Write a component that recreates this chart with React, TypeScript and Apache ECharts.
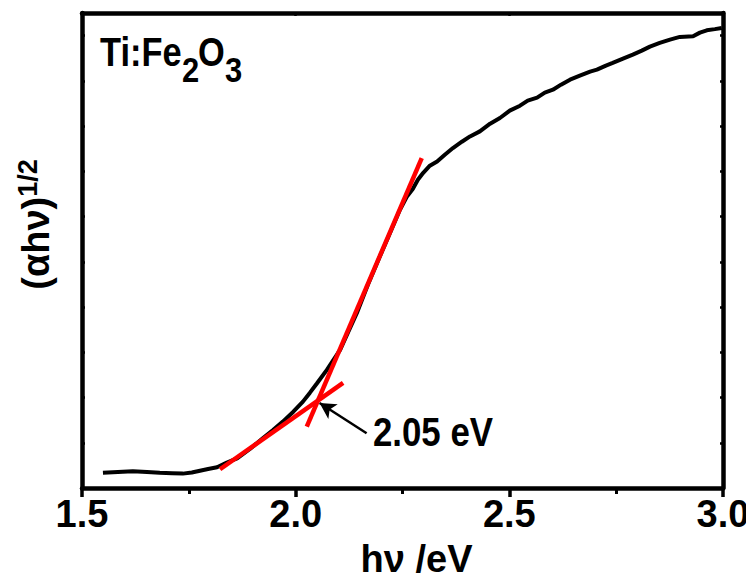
import React, { useEffect, useRef } from "react";
import * as echarts from "echarts";

// Photon energy (eV) and (αhν)^1/2 (arbitrary units)
const hv = [
  1.549, 1.584, 1.619, 1.652, 1.682, 1.711, 1.736, 1.757, 1.776, 1.795,
  1.816, 1.839, 1.863, 1.893, 1.923, 1.947, 1.970, 1.994, 2.017, 2.033,
  2.050, 2.073, 2.104, 2.122, 2.143, 2.169, 2.197, 2.221, 2.244, 2.260,
  2.274, 2.286, 2.298, 2.314, 2.331, 2.349, 2.368, 2.389, 2.408, 2.431,
  2.455, 2.478, 2.501, 2.525, 2.543, 2.565, 2.583, 2.602, 2.621, 2.642,
  2.665, 2.689, 2.705, 2.726, 2.742, 2.766, 2.789, 2.810, 2.829, 2.852,
  2.876, 2.899, 2.930, 2.946, 2.962, 2.981, 2.997,
];
const ahv = [
  0.338, 0.355, 0.372, 0.354, 0.335, 0.326, 0.318, 0.343, 0.383, 0.420,
  0.458, 0.564, 0.657, 0.863, 1.100, 1.283, 1.467, 1.681, 1.909, 2.102,
  2.316, 2.611, 3.053, 3.429, 3.865, 4.491, 5.117, 5.642, 6.150, 6.438,
  6.610, 6.814, 6.962, 7.124, 7.219, 7.367, 7.515, 7.655, 7.772, 7.883,
  8.053, 8.179, 8.341, 8.451, 8.562, 8.628, 8.739, 8.805, 8.916, 9.027,
  9.115, 9.204, 9.248, 9.336, 9.396, 9.491, 9.580, 9.668, 9.757, 9.838,
  9.912, 9.971, 9.985, 10.066, 10.117, 10.144, 10.170,
];

// Linear fits (red lines)
const steepFitX = [2.026, 2.295];
const steepFitY = [1.356, 7.294];
const shallowFitX = [1.823, 2.111];
const shallowFitY = [0.414, 2.323];

// Arrow pointing to the intersection
const arrowFrom = [2.166, 1.21];
const arrowTo = [2.056, 1.88];

const xMin = 1.5;
const xMax = 3.0;
const xInterval = 0.5;
const yMin = 0;
const yMax = 10.5;
const yInterval = 1;

const sampleName = ["Ti:Fe", "2", "O", "3"];
const bandGapLabel = "2.05 eV";
const xTitle = "hν /eV";
const yTitle = "{a|(αhν)}{s|1/2}";

const FONT = "'Liberation Sans', Arial, sans-serif";

export default function App() {
  const ref = useRef<HTMLDivElement>(null);

  useEffect(() => {
    if (!ref.current) return;
    const chart = echarts.init(ref.current, undefined, { renderer: "svg" });

    const zip = (xs: number[], ys: number[]) => xs.map((x, i) => [x, ys[i]]);

    const axisLineStyle = { color: "#000", width: 4.5 };

    const option: any = {
      animation: false,
      backgroundColor: "#fff",
      grid: { left: 82, right: 31, top: 13, bottom: 98, containLabel: false, outerBoundsMode: "none" },
      xAxis: [
        {
          type: "value",
          position: "bottom",
          min: xMin,
          max: xMax,
          interval: xInterval,
          axisLine: { show: true, onZero: false, lineStyle: axisLineStyle },
          axisTick: { show: true, inside: false, length: 9, lineStyle: { color: "#000", width: 3.5 } },
          minorTick: { show: true, splitNumber: 2, length: 6, lineStyle: { color: "#000", width: 3 } },
          splitLine: { show: false },
          minorSplitLine: { show: false },
          axisLabel: {
            show: true,
            margin: 7,
            color: "#000",
            fontSize: 38,
            fontWeight: "bold",
            fontFamily: FONT,
            hideOverlap: false,
            formatter: (v: number) => v.toFixed(1),
          },
          name: xTitle,
          nameLocation: "middle",
          nameGap: 52,
          nameTextStyle: {
            color: "#000",
            fontSize: 38,
            fontWeight: "bold",
            fontFamily: FONT,
            padding: [0, 0, 0, 28],
          },
        },
        {
          type: "value",
          position: "top",
          min: xMin,
          max: xMax,
          interval: xInterval,
          axisLine: { show: true, onZero: false, lineStyle: axisLineStyle },
          axisTick: { show: true, inside: true, length: 3, lineStyle: { color: "#000", width: 2.5 } },
          minorTick: { show: true, splitNumber: 2, length: 2, lineStyle: { color: "#000", width: 2 } },
          splitLine: { show: false },
          axisLabel: { show: false },
        },
      ],
      yAxis: [
        {
          type: "value",
          position: "left",
          min: yMin,
          max: yMax,
          interval: yInterval,
          axisLine: { show: true, onZero: false, lineStyle: axisLineStyle },
          axisTick: { show: true, inside: true, length: 3, lineStyle: { color: "#000", width: 2.5 } },
          splitLine: { show: false },
          axisLabel: { show: false },
          name: yTitle,
          nameLocation: "middle",
          nameGap: 24,
          nameRotate: 90,
          nameTextStyle: {
            color: "#000",
            fontFamily: FONT,
            padding: [0, 0, 0, 52],
            rich: {
              a: { fontSize: 38, fontWeight: "bold", fontFamily: FONT, color: "#000", lineHeight: 44 },
              s: {
                fontSize: 27,
                fontWeight: "bold",
                fontFamily: FONT,
                color: "#000",
                verticalAlign: "top",
                lineHeight: 44,
                padding: [0, 0, 30, 0],
              },
            },
          },
        },
        {
          type: "value",
          position: "right",
          min: yMin,
          max: yMax,
          interval: yInterval,
          axisLine: { show: true, onZero: false, lineStyle: axisLineStyle },
          axisTick: { show: true, inside: true, length: 3, lineStyle: { color: "#000", width: 2.5 } },
          splitLine: { show: false },
          axisLabel: { show: false },
        },
      ],
      series: [
        {
          name: "Ti:Fe2O3",
          type: "line",
          data: zip(hv, ahv),
          showSymbol: false,
          symbol: "none",
          lineStyle: { color: "#000", width: 4 },
          z: 2,
        },
        {
          name: "fit-steep",
          type: "line",
          data: zip(steepFitX, steepFitY),
          showSymbol: false,
          symbol: "none",
          lineStyle: { color: "#ff0000", width: 4.5 },
          z: 3,
        },
        {
          name: "fit-shallow",
          type: "line",
          data: zip(shallowFitX, shallowFitY),
          showSymbol: false,
          symbol: "none",
          lineStyle: { color: "#ff0000", width: 4.5 },
          z: 3,
        },
        {
          name: "arrow",
          type: "line",
          data: [],
          markLine: {
            silent: true,
            symbol: ["none", "arrow"],
            symbolSize: [13, 16],
            label: { show: false },
            lineStyle: { color: "#000", width: 2.5, type: "solid" },
            data: [[{ coord: arrowFrom }, { coord: arrowTo }]],
          },
          z: 4,
        },
      ],
      graphic: [
        {
          type: "text",
          x: 100,
          y: 32.5,
          scaleX: 0.86,
          style: { text: sampleName[0], font: `bold 40px ${FONT}`, fill: "#000", verticalAlign: "top" },
        },
        {
          type: "text",
          x: 182,
          y: 51.5,
          scaleX: 0.86,
          style: { text: sampleName[1], font: `bold 36px ${FONT}`, fill: "#000", verticalAlign: "top" },
        },
        {
          type: "text",
          x: 198,
          y: 32.5,
          scaleX: 0.86,
          style: { text: sampleName[2], font: `bold 40px ${FONT}`, fill: "#000", verticalAlign: "top" },
        },
        {
          type: "text",
          x: 225,
          y: 51.5,
          scaleX: 0.86,
          style: { text: sampleName[3], font: `bold 36px ${FONT}`, fill: "#000", verticalAlign: "top" },
        },
        {
          type: "text",
          x: 373,
          y: 412.5,
          scaleX: 0.87,
          style: { text: bandGapLabel, font: `bold 40px ${FONT}`, fill: "#000", verticalAlign: "top" },
        },
      ],
    };

    chart.setOption(option);
    return () => chart.dispose();
  }, []);

  return <div ref={ref} style={{ width: 754, height: 586, margin: -8 }} />;
}
